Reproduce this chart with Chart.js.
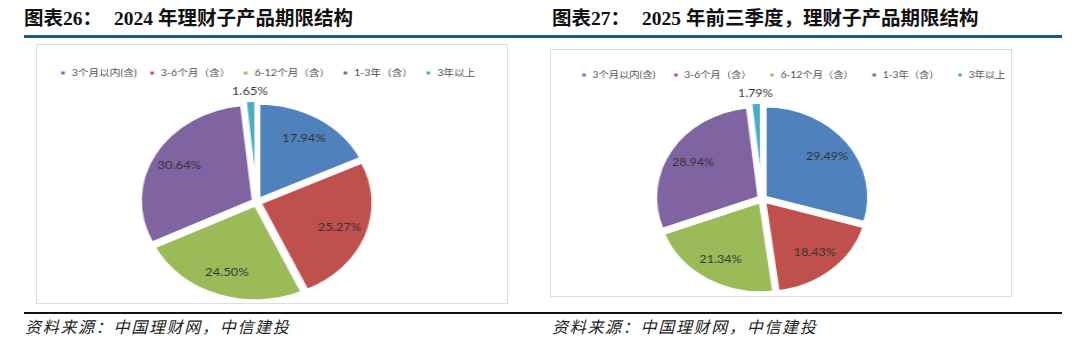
<!DOCTYPE html>
<html>
<head>
<meta charset="utf-8">
<script src="https://cdn.jsdelivr.net/npm/chart.js@4.4.1/dist/chart.umd.min.js"></script>
<style>
	body { margin: 0; width: 1080px; height: 350px; background: #fff; position: relative; overflow: hidden; }
	.title { position: absolute; top: 8px; font-family: "Liberation Serif", "Noto Sans CJK SC", serif; font-weight: bold; font-size: 19.5px; line-height: 22px; color: #111; white-space: nowrap; }
	.title .num { margin-left: 12px; }
	.rule-blue { position: absolute; left: 24px; width: 1038px; top: 35px; height: 3px; background: #175c8a; }
	.rule-black { position: absolute; left: 24px; width: 1038px; top: 312px; height: 2px; background: #111; }
	.box { position: absolute; border: 1px solid #dcdcdc; box-sizing: border-box; }
	.wrap { position: absolute; transform-origin: 0 0; }
	.source { position: absolute; top: 315px; font-family: "Noto Sans CJK SC", sans-serif; font-style: italic; font-size: 16px; line-height: 22px; color: #222; letter-spacing: 1.7px; white-space: nowrap; }
</style>
</head>
<body>
<div class="title" style="left:24px">图表26：<span class="num">2024 年理财子产品期限结构</span></div>
<div class="title" style="left:552px">图表27：<span class="num">2025 年前三季度，理财子产品期限结构</span></div>
<div class="rule-blue"></div>

<div class="box" style="left:36px; top:44px; width:472px; height:260px;"></div>
<div class="wrap" style="left:36px; top:44px; transform: scaleX(1.18);"><canvas id="chart-2024" width="400" height="260"></canvas></div>

<div class="box" style="left:550px; top:49px; width:462px; height:248px;"></div>
<div class="wrap" style="left:550px; top:49px; transform: scaleX(1.1407);"><canvas id="chart-2025" width="405" height="248"></canvas></div>

<div class="rule-black"></div>
<div class="source" style="left:25px">资料来源：中国理财网，中信建投</div>
<div class="source" style="left:552px">资料来源：中国理财网，中信建投</div>

<script>
const categories = ['3个月以内(含)', '3-6个月（含）', '6-12个月（含）', '1-3年（含）', '3年以上'];
const values2024 = [17.94, 25.27, 24.50, 30.64, 1.65];
const values2025 = [29.49, 18.43, 21.34, 28.94, 1.79];
const colors = ['#4f81bd', '#c0504d', '#9bbb59', '#8064a2', '#4bacc6'];

// percent labels inside the slices, small ones above the pie
const pieLabels = {
	id: 'pieLabels',
	afterDatasetsDraw(chart) {
		const ctx = chart.ctx;
		const meta = chart.getDatasetMeta(0);
		const data = chart.data.datasets[0].data;
		ctx.save();
		ctx.font = '11px Lato, "Noto Sans", sans-serif';
		ctx.fillStyle = '#333';
		ctx.textAlign = 'center';
		ctx.textBaseline = 'middle';
		meta.data.forEach((arc, i) => {
			const p = arc.getProps(['x', 'y', 'startAngle', 'endAngle', 'outerRadius'], true);
			const mid = (p.startAngle + p.endAngle) / 2;
			const r = data[i] < 5 ? p.outerRadius + 15 : p.outerRadius * 0.78;
			ctx.fillText(data[i].toFixed(2) + '%', p.x + Math.cos(mid) * r, p.y + Math.sin(mid) * r);
		});
		ctx.restore();
	}
};

// move legend and pie a little after layout
const nudge = {
	id: 'nudge',
	afterLayout(chart, args, opts) {
		const lg = chart.legend;
		lg.left += opts.dx; lg.right += opts.dx;
		lg.top += opts.dy; lg.bottom += opts.dy;
		chart.chartArea.left += opts.cx;
		chart.chartArea.right += opts.cx;
	}
};

function makePie(id, values, radius, pad, legendPad, shift) {
	return new Chart(document.getElementById(id).getContext('2d'), {
		type: 'pie',
		data: {
			labels: categories,
			datasets: [{
				data: values,
				backgroundColor: colors,
				borderColor: '#fff',
				borderWidth: 3,
				offset: 12,
				radius: radius,
			}]
		},
		options: {
			responsive: false,
			animation: false,
			layout: { padding: pad },
			plugins: {
				legend: {
					position: 'top',
					labels: {
						boxWidth: 6,
						boxHeight: 6,
						padding: legendPad,
						color: '#4a4a4a',
						font: { size: 9, family: 'Lato, "Noto Sans CJK SC", sans-serif' }
					}
				},
				tooltip: { enabled: false },
				nudge: shift
			}
		},
		plugins: [pieLabels, nudge]
	});
}

let chart2024 = makePie('chart-2024', values2024, 96, { top: 29, bottom: 2, left: 0, right: 0 }, 10, { dx: -4, dy: -14.5, cx: -13 });
let chart2025 = makePie('chart-2025', values2025, 91, { top: 22, bottom: 4, left: 0, right: 0 }, 15, { dx: 10.5, dy: -15.5, cx: -16.5 });
</script>
</body>
</html>
